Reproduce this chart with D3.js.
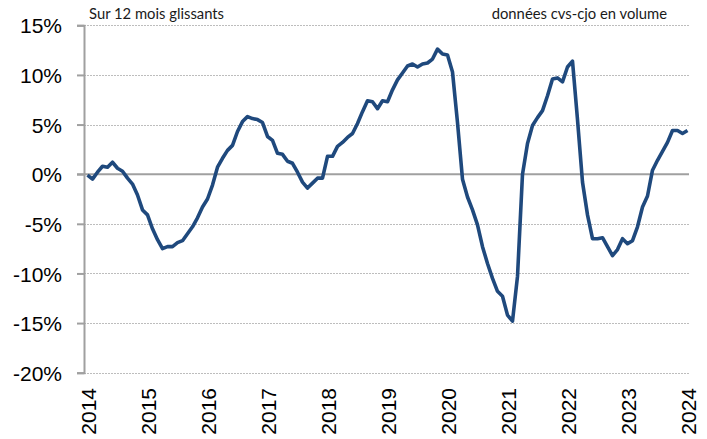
<!DOCTYPE html>
<html>
<head>
<meta charset="utf-8">
<script src="https://cdn.jsdelivr.net/npm/d3@7"></script>
<style>
  body { margin: 0; background: #fff; }
  .tick-label { font-family: "Liberation Sans", Arial, sans-serif; font-size: 21px; fill: #000; }
  .note { font-family: Lato, "Open Sans", sans-serif; font-size: 14.8px; fill: #1a1a1a; }
</style>
</head>
<body>
<div id="chart"></div>
<script>
// glissement sur 12 mois, en %, mensuel de janvier 2014 a janvier 2024
var values = [
  -0.1, -0.5, 0.2, 0.8, 0.7, 1.2, 0.6, 0.3, -0.4, -1.0, -2.1, -3.6,
  -4.1, -5.5, -6.6, -7.5, -7.3, -7.3, -6.9, -6.7, -6.0, -5.3, -4.4, -3.3,
  -2.5, -1.1, 0.7, 1.6, 2.4, 2.9, 4.3, 5.3, 5.8, 5.6, 5.5, 5.2,
  3.8, 3.4, 2.1, 2.0, 1.3, 1.1, 0.2, -0.8, -1.4, -0.9, -0.4, -0.4,
  1.8, 1.8, 2.8, 3.2, 3.7, 4.1, 5.1, 6.3, 7.4, 7.3, 6.6, 7.4,
  7.3, 8.5, 9.5, 10.2, 10.9, 11.1, 10.8, 11.1, 11.2, 11.6, 12.6, 12.1,
  12.0, 10.3, 5.2, -0.5, -2.3, -3.6, -5.1, -7.3, -9.0, -10.5, -11.8, -12.3,
  -14.2, -14.8, -10.3, 0.0, 3.1, 4.9, 5.7, 6.4, 7.9, 9.6, 9.7, 9.3,
  10.8, 11.4, 5.5, -0.8, -4.1, -6.5, -6.5, -6.4, -7.3, -8.2, -7.6, -6.5,
  -7.0, -6.7, -5.3, -3.3, -2.2, 0.4, 1.4, 2.3, 3.2, 4.4, 4.4, 4.1,
  4.4
];
var years = [2014, 2015, 2016, 2017, 2018, 2019, 2020, 2021, 2022, 2023, 2024];
var yTicks = [-20, -15, -10, -5, 0, 5, 10, 15];

var svgWidth = 707;
var svgHeight = 439;

var svg = d3.select("#chart")
  .append("svg")
  .attr("width", svgWidth)
  .attr("height", svgHeight);

// index du mois depuis janvier 2014
var x = d3.scaleLinear()
  .domain([-0.7, 120.3])
  .range([84, 689]);
var y = d3.scaleLinear()
  .domain([-20, 15])
  .range([372.7, 25.3]);

// grille pointillee
svg.append("g")
  .selectAll("line")
  .data(yTicks.filter(d => d !== 0))
  .enter()
  .append("line")
  .attr("x1", 84)
  .attr("x2", 689)
  .attr("y1", d => Math.round(y(d)) + 0.5)
  .attr("y2", d => Math.round(y(d)) + 0.5)
  .attr("stroke", "#bdbdbd")
  .attr("stroke-width", 1)
  .attr("stroke-dasharray", "2,1");

// axe vertical
var yAxis = d3.axisLeft(y)
  .tickValues(yTicks)
  .tickSize(7)
  .tickPadding(15)
  .tickFormat(d => d + "%");
var yg = svg.append("g")
  .attr("transform", "translate(84,0)")
  .call(yAxis);
yg.attr("font-size", null).attr("font-family", null);
yg.select(".domain").attr("stroke", "#a0a0a0").attr("stroke-width", 2);
yg.selectAll(".tick line").attr("stroke", "#a0a0a0").attr("stroke-width", 2);
yg.selectAll(".tick text")
  .attr("class", "tick-label")
  .attr("dy", "0.36em");

// ligne du zero
svg.append("line")
  .attr("x1", 77)
  .attr("x2", 689)
  .attr("y1", y(0))
  .attr("y2", y(0))
  .attr("stroke", "#a0a0a0")
  .attr("stroke-width", 2);

// annees en bas, texte vertical
svg.append("g")
  .selectAll("text")
  .data(years)
  .enter()
  .append("text")
  .attr("class", "tick-label")
  .attr("text-anchor", "end")
  .attr("transform", d => `translate(${x((d - 2014) * 12) + 8}, 388) rotate(-90)`)
  .text(d => d);

// courbe
var line = d3.line()
  .x((d, i) => x(i))
  .y(d => y(d));
svg.append("path")
  .datum(values)
  .attr("d", line)
  .attr("fill", "none")
  .attr("stroke", "#1f497d")
  .attr("stroke-width", 3.6)
  .attr("stroke-linejoin", "round");

svg.append("text")
  .attr("class", "note")
  .attr("x", 89)
  .attr("y", 18.5)
  .text("Sur 12 mois glissants");

svg.append("text")
  .attr("class", "note")
  .attr("x", 667)
  .attr("y", 18.5)
  .attr("text-anchor", "end")
  .text("données cvs-cjo en volume");
</script>
</body>
</html>
